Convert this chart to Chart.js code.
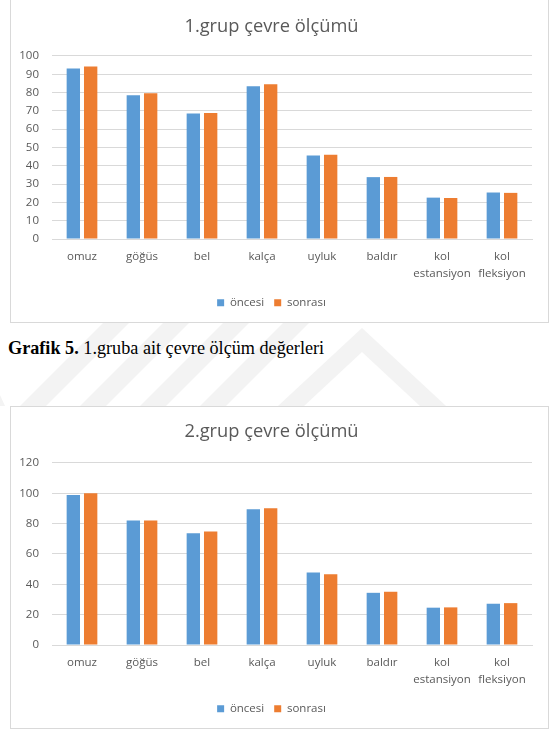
<!DOCTYPE html>
<html>
<head>
  <title>Grup çevre ölçümü</title>
  <script src="https://cdn.jsdelivr.net/npm/chart.js"></script>
  <style>
    body { margin: 0; background: #fff; width: 554px; height: 730px; overflow: hidden; position: relative; }
    #mark { position: absolute; left: 0; top: 0; }
    .box { position: absolute; left: 10px; width: 537px; background: #fff; border: 1px solid #d9d9d9; }
    #box1 { top: -1px; height: 322px; }
    #box2 { top: 406px; height: 321px; }
    .box canvas { display: block; }
    #caption { position: absolute; left: 8px; top: 339px; font-family: "Liberation Serif", "Times New Roman", serif; font-size: 18.2px; line-height: 18px; color: #000; white-space: nowrap; }
  </style>
</head>
<body>
  <!-- faint watermark between the two charts -->
  <svg id="mark" width="554" height="730">
    <g fill="#f3f3f3">
      <polygon points="20,406 46,406 130,322 104,322"/>
      <polygon points="80,406 106,406 190,322 164,322"/>
      <polygon points="140,406 166,406 250,322 224,322"/>
      <polygon points="200,406 226,406 310,322 284,322"/>
      <polygon points="362,352 420,406 446,406 362,328 278,406 304,406"/>
      <polygon points="5,406 0,406 0,395"/>
    </g>
  </svg>

  <div class="box" id="box1"><canvas id="chart1" width="537" height="322"></canvas></div>
  <div id="caption"><b>Grafik 5.</b> 1.gruba ait çevre ölçüm değerleri</div>
  <div class="box" id="box2"><canvas id="chart2" width="537" height="321"></canvas></div>

  <script>
    // categories (two-line labels are arrays)
    const categories = ['omuz', 'göğüs', 'bel', 'kalça', 'uyluk', 'baldır', ['kol', 'estansiyon'], ['kol', 'fleksiyon']];

    // 1. grup
    const grup1Oncesi = [93.2, 78.5, 68.6, 83.4, 45.6, 33.8, 22.6, 25.4];
    const grup1Sonrasi = [94.3, 79.6, 68.8, 84.5, 46.0, 33.9, 22.4, 25.2];

    // 2. grup
    const grup2Oncesi = [98.9, 82.0, 73.7, 89.5, 47.8, 34.4, 24.6, 27.2];
    const grup2Sonrasi = [100.0, 82.1, 74.8, 90.1, 46.7, 35.1, 24.8, 27.6];

    const textColor = '#595959';
    const gridColor = '#d9d9d9';
    const fontFamily = '"Open Sans", "Liberation Sans", sans-serif';

    function makeChart(id, title, oncesi, sonrasi, yMax, yStep, titleTop, titleBottom) {
      const ctx = document.getElementById(id).getContext('2d');
      return new Chart(ctx, {
        type: 'bar',
        data: {
          labels: categories,
          datasets: [
            { label: 'öncesi', data: oncesi, backgroundColor: '#5b9bd5', categoryPercentage: 0.578, barPercentage: 0.77 },
            { label: 'sonrası', data: sonrasi, backgroundColor: '#ed7d31', categoryPercentage: 0.578, barPercentage: 0.77 }
          ]
        },
        options: {
          responsive: false,
          animation: false,
          layout: { padding: { left: 0, right: 16, top: 0, bottom: 3.5 } },
          plugins: {
            tooltip: { enabled: false },
            title: {
              display: true,
              text: title,
              color: textColor,
              font: { family: fontFamily, size: 18.3, weight: 'normal' },
              padding: { top: titleTop, bottom: titleBottom }
            },
            legend: {
              position: 'bottom',
              labels: {
                color: textColor,
                font: { family: fontFamily, size: 11.5 },
                boxWidth: 7,
                boxHeight: 7,
                padding: 10
              }
            }
          },
          scales: {
            x: {
              afterFit: scale => { scale.height = 48; },
              grid: { display: false, drawTicks: false },
              border: { display: true, color: gridColor },
              ticks: {
                color: textColor,
                font: { family: fontFamily, size: 11.5, lineHeight: 1.42 },
                padding: 10,
                maxRotation: 0,
                autoSkip: false
              }
            },
            y: {
              min: 0,
              max: yMax,
              afterFit: scale => { scale.width = 41; },
              grid: { color: gridColor, drawTicks: false },
              border: { display: false },
              ticks: {
                stepSize: yStep,
                color: textColor,
                font: { family: fontFamily, size: 11.5 },
                padding: 13
              }
            }
          }
        }
      });
    }

    makeChart('chart1', '1.grup çevre ölçümü', grup1Oncesi, grup1Sonrasi, 100, 10, 16, 18);
    makeChart('chart2', '2.grup çevre ölçümü', grup2Oncesi, grup2Sonrasi, 120, 20, 14, 20);
  </script>
</body>
</html>
